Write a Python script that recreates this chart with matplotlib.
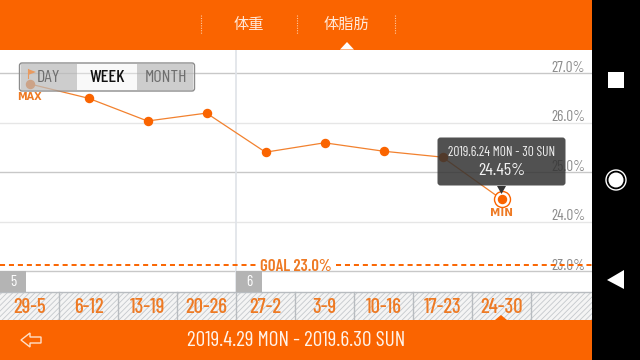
"""Body-fat weekly trend screen from a phone app."""

import matplotlib

matplotlib.use("Agg")
import matplotlib.pyplot as plt
from matplotlib import font_manager
from matplotlib.patches import Circle, FancyBboxPatch, Polygon, Rectangle
from matplotlib.transforms import ScaledTranslation

WEEKS = ["29-5", "6-12", "13-19", "20-26", "27-2", "3-9", "10-16", "17-23", "24-30"]
FAT_PCT = [26.78, 26.49, 26.03, 26.19, 25.40, 25.59, 25.42, 25.30, 24.45]
Y_TICKS = [27.0, 26.0, 25.0, 24.0, 23.0]
Y_LABELS = ["27.0%", "26.0%", "25.0%", "24.0%", "23.0%"]
GOAL_LINE = 23.13
MONTHS = ["5", "6"]
MONTH_WEEK = [0, 4]
TABS = ["体重", "体脂肪"]
RANGES = ["DAY", "WEEK", "MONTH"]

ORANGE = "#fa6400"
LINE = "#f2812e"
TEXT_ORANGE = "#ee7a24"
CJK = ["Noto Sans CJK JP", "DejaVu Sans"]

installed = {f.name for f in font_manager.fontManager.ttflist}
NARROW = [n for n in ["Barlow Condensed", "Roboto Condensed", "Liberation Sans", "DejaVu Sans"] if n in installed]

plt.rcParams["font.family"] = NARROW
plt.rcParams["hatch.linewidth"] = 0.6
plt.rcParams["hatch.color"] = "#c4c8cc"

fig = plt.figure(figsize=(6.4, 3.6), dpi=100, facecolor="black")

# chart axes spans 0-592 px across, 49-320 px down
ax = fig.add_axes([0, 40 / 360, 592 / 640, 271 / 360], zorder=1)
ax.set_axisbelow(False)
ax.set_xlim(-0.5, 592 / 59 - 0.5)
ax.set_ylim(27 - 247 / 49.5, 27 + 24 / 49.5)
for spine in ax.spines.values():
    spine.set_visible(False)

ax.set_yticks(Y_TICKS, Y_LABELS)
ax.yaxis.tick_right()
ax.tick_params(axis="y", length=0, pad=-29, labelsize=11, labelcolor="#8a8a8a")
lift = ScaledTranslation(0, 1.3 / 100, fig.dpi_scale_trans)
for label in ax.get_yticklabels():
    label.set_va("baseline")
    label.set_ha("left")
    label.set_transform(label.get_transform() + lift)
for tick, color in zip(Y_TICKS, ["#c8c8c8", "#e6e6e6", "#c8c8c8", "#e6e6e6", "#c8c8c8"]):
    ax.axhline(tick, color=color, lw=1, zorder=1)
ax.axvline(3.5, color="#dfe3e8", lw=1.2, ymin=28 / 271, zorder=1)

# week strip along the bottom
strip_y = 27 - 219 / 49.5
ax.add_patch(Rectangle((-0.5, ax.get_ylim()[0]), 11, strip_y - ax.get_ylim()[0],
                       facecolor="#f4f4f4", edgecolor="#c4c8cc", hatch="//////", lw=0, zorder=2))
ax.axhline(strip_y, color="#b8bcc0", lw=1, zorder=3)
for i in range(len(WEEKS)):
    ax.plot([i + 0.5, i + 0.5], [ax.get_ylim()[0], strip_y], color="#b8bcc0", lw=1, zorder=3)
ax.set_xticks(range(len(WEEKS)), WEEKS)
ax.tick_params(axis="x", length=0, pad=-15.5, labelsize=15, labelcolor=TEXT_ORANGE)
for label in ax.get_xticklabels():
    label.set_fontweight("medium")

for month, week in zip(MONTHS, MONTH_WEEK):
    ax.add_patch(Rectangle((week - 0.5, strip_y), 26 / 59, 21 / 49.5, color="#b4b4b4", lw=0, zorder=3))
    ax.text(week - 0.5 + 13 / 59, strip_y + 10.5 / 49.5, month, color="white", fontsize=11,
            ha="center", va="center", zorder=4)

ax.plot(range(len(WEEKS)), FAT_PCT, color=LINE, lw=0.9, marker="o", ms=5.8,
        mfc=ORANGE, mec=ORANGE, zorder=5)
ax.plot(8, FAT_PCT[8], "o", ms=11.5, mfc="white", mec=ORANGE, mew=1, zorder=6)
ax.plot(8, FAT_PCT[8], "o", ms=5.8, color=ORANGE, zorder=7)
ax.text(0, FAT_PCT[0] - 13 / 49.5, "MAX", color=TEXT_ORANGE, fontsize=7, fontweight="bold",
        ha="center", va="center", family="DejaVu Sans", zorder=5)
ax.text(8, FAT_PCT[8] - 13.5 / 49.5, "MIN", color=TEXT_ORANGE, fontsize=7.5, fontweight="bold",
        ha="center", va="center", family="DejaVu Sans", zorder=5)

# goal line with the label breaking it
ax.plot([-0.5, 3.87], [GOAL_LINE, GOAL_LINE], color=ORANGE, lw=1.4, ls=(0, (2.6, 2)), zorder=5)
ax.plot([5.2, 9.53], [GOAL_LINE, GOAL_LINE], color=ORANGE, lw=1.4, ls=(0, (2.6, 2)), zorder=5)
ax.text(3.9, GOAL_LINE - 1.5 / 49.5, "GOAL 23.0%", color=TEXT_ORANGE, fontsize=12, fontweight="semibold",
        ha="left", va="center", zorder=6)

# screen chrome and overlays, in pixels
px = fig.add_axes([0, 0, 1, 1], zorder=2)
px.set_xlim(0, 640)
px.set_ylim(360, 0)
px.axis("off")

px.add_patch(Rectangle((0, 0), 592, 49.5, color=ORANGE, lw=0))
px.add_patch(Rectangle((0, 320), 592, 40, color=ORANGE, lw=0))
px.add_patch(Polygon([(340, 49.5), (347, 42), (354, 49.5)], color="white", lw=0))
px.add_patch(Polygon([(495, 320), (501, 315), (507, 320)], color=ORANGE, lw=0))
for x in [200.5, 296.5, 395]:
    px.plot([x, x], [15, 34], color="#ffc9a0", lw=0.8, ls=(0, (1, 1.2)))
for tab, x in zip(TABS, [248.5, 346.5]):
    px.text(x, 24, tab, color="#ffe9da", fontsize=11, family=CJK, ha="center", va="center")
px.text(296, 340.5, "2019.4.29 MON - 2019.6.30 SUN", color="#fff3ea", fontsize=15.4,
        ha="center", va="center")
px.add_patch(Polygon([(21, 340), (30, 333), (30, 337), (41, 337), (41, 343), (30, 343), (30, 347)],
                     facecolor="none", edgecolor="#ffe0c8", lw=1))

# DAY / WEEK / MONTH selector, see-through over the chart
px.add_patch(FancyBboxPatch((19.5, 63), 175, 28, boxstyle="round,pad=0,rounding_size=2.5",
                            facecolor="#f2f2f2", edgecolor="none", alpha=0.4))
px.add_patch(FancyBboxPatch((19.5, 63), 175, 28, boxstyle="round,pad=0,rounding_size=2.5",
                            facecolor="none", edgecolor="#8c8c8c", lw=1))
px.add_patch(Rectangle((21, 64), 56, 26, color="#aaaaaa", alpha=0.55, lw=0))
px.add_patch(Rectangle((137, 64), 56, 26, color="#aaaaaa", alpha=0.55, lw=0))
for name, x, color, weight in zip(RANGES, [49, 107, 166], ["#6e6e6e", "#111111", "#6e6e6e"],
                                  ["normal", "medium", "normal"]):
    px.text(x, 77, name, color=color, fontsize=13, fontweight=weight, ha="center", va="center")
px.add_patch(Polygon([(28, 69), (36, 72), (28, 75)], color="#e89a60", lw=0))
px.plot([28, 28], [69, 78], color="#e89a60", lw=0.8)

# tooltip for the selected week
px.add_patch(FancyBboxPatch((437.5, 137.5), 128, 48, boxstyle="round,pad=0,rounding_size=3",
                            facecolor="#333333", edgecolor="none", alpha=0.85))
px.add_patch(Polygon([(497, 186), (506, 186), (501.5, 194)], color="#333333", lw=0))
px.text(501.5, 152, "2019.6.24 MON - 30 SUN", color="#f2f2f2", fontsize=9.7, ha="center", va="center")
px.text(501.5, 170.5, "24.45%", color="#f2f2f2", fontsize=13, ha="center", va="center")

# navigation bar
px.add_patch(Rectangle((608, 72), 16, 16, color="white", lw=0))
px.add_patch(Circle((616, 180), 10, facecolor="none", edgecolor="white", lw=1.0))
px.add_patch(Circle((616, 180), 7.5, color="white", lw=0))
px.add_patch(Polygon([(607, 280), (624, 270), (624, 289)], color="white", lw=0))

fig.savefig("out.png", dpi=100, facecolor="black")
